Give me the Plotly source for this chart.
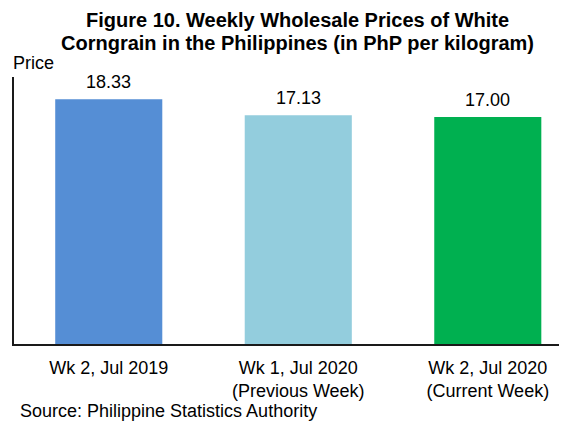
import plotly.graph_objects as go

categories = ["Wk 2, Jul 2019", "Wk 1, Jul 2020<br>(Previous Week)", "Wk 2, Jul 2020<br>(Current Week)"]
values = [18.33, 17.13, 17.00]
colors = ["#558ED5", "#93CDDD", "#00B050"]

FONT = "Arial, Liberation Sans, sans-serif"

fig = go.Figure()
fig.add_trace(go.Bar(
    x=categories, y=values,
    marker=dict(color=colors, line=dict(width=0)),
    width=0.565,
))

annotations = [
    dict(text="<b>Figure 10. Weekly Wholesale Prices of White</b>",
         xref="paper", yref="paper", x=0.5127, y=1, yshift=57, xanchor="center", yanchor="middle",
         showarrow=False, font=dict(size=20)),
    dict(text="<b>Corngrain in the Philippines (in PhP per kilogram)</b>",
         xref="paper", yref="paper", x=0.5127, y=1, yshift=34, xanchor="center", yanchor="middle",
         showarrow=False, font=dict(size=20)),
    dict(text="Price", xref="paper", yref="paper", x=0, xshift=-3, y=1, yshift=14,
         xanchor="left", yanchor="middle", showarrow=False, font=dict(size=18)),
    dict(text="Source: Philippine Statistics Authority", xref="paper", yref="paper",
         x=0, xshift=4, y=0, yshift=-67, xanchor="left", yanchor="middle",
         showarrow=False, font=dict(size=18)),
]
for c, v in zip(categories, values):
    annotations.append(dict(text=f"{v:.2f}", xref="x", yref="y", x=c, y=v,
                            yshift=17, xanchor="center", yanchor="middle",
                            showarrow=False, font=dict(size=18)))

fig.update_layout(
    width=567, height=428,
    margin=dict(l=6, r=8, t=69, b=92),
    paper_bgcolor="white", plot_bgcolor="white",
    font=dict(family=FONT, color="#000000"),
    showlegend=False,
    xaxis=dict(
        type="category", range=[-0.5, 2.418],
        showline=True, linecolor="#1a1a1a", linewidth=2,
        showgrid=False, ticks="", tickfont=dict(size=18), ticklabelstandoff=6,
    ),
    yaxis=dict(
        range=[0, 20], showline=True, linecolor="#1a1a1a", linewidth=2,
        showgrid=False, showticklabels=False, ticks="", zeroline=False,
    ),
    annotations=annotations,
)

fig.write_html("out.html")
